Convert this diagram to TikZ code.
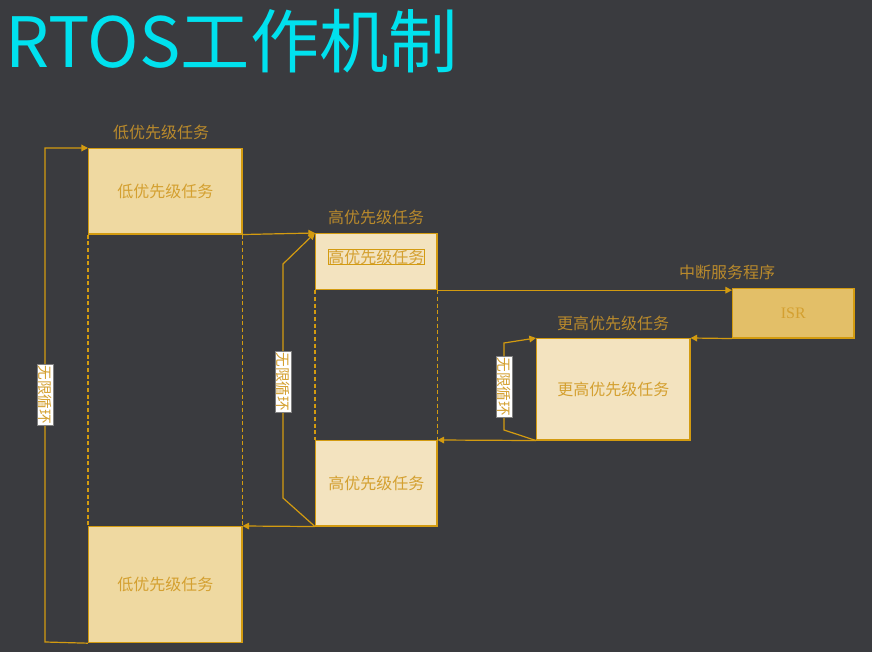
\documentclass[tikz,border=0pt]{standalone}
\usepackage{fontspec}
\newfontfamily\cjk{Noto Sans CJK SC}
\newfontfamily\ser{Liberation Serif}
\usetikzlibrary{arrows.meta}
\definecolor{bg}{HTML}{3A3B3F}
\definecolor{ln}{HTML}{D39B10}
\definecolor{tx}{HTML}{D4A030}
\definecolor{lb}{HTML}{B98A2C}
\definecolor{fa}{HTML}{EFD9A1}
\definecolor{fb}{HTML}{F3E3BF}
\definecolor{fc}{HTML}{E3BF68}
\definecolor{ti}{HTML}{00E1EE}
\tikzset{
 box/.style={draw=ln,line width=0.9pt,font=\cjk\fontsize{12}{14}\selectfont,text=tx},
 arr/.style={draw=ln,line width=0.9pt,-{Triangle[length=5pt,width=5pt]}},
 ln/.style={draw=ln,line width=0.8pt},
 dsh/.style={draw=ln,line width=0.8pt,dash pattern=on 3pt off 2pt},
 lab/.style={font=\cjk\fontsize{12}{14}\selectfont,text=lb},
 vlab/.style={fill=white,draw=gray,line width=0.4pt,inner sep=1pt,rotate=-90,font=\cjk\fontsize{11}{12}\selectfont,text=tx}
}
\begin{document}
\begin{tikzpicture}[x=0.75pt,y=-0.75pt]
\fill[bg] (0,0) rectangle (872,652);
\useasboundingbox (0,0) rectangle (872,652);
\node[anchor=base west,text=ti,font=\cjk\fontsize{52}{56}\selectfont,inner sep=0] (title) at (5,68) {RTOS工作机制};
% boxes
\node[box,fill=fa,minimum width=115pt,minimum height=64pt,anchor=north west] (L1) at (88,148) {低优先级任务};
\node[box,fill=fa,minimum width=115pt,minimum height=87pt,anchor=north west] (L2) at (88,526) {低优先级任务};
\node[box,fill=fb,minimum width=91pt,minimum height=42pt,anchor=north west] (H1) at (315,233) {};
\node[box,anchor=north,inner sep=0] (H1t) at ([yshift=-12pt]H1.north) {高优先级任务};
\node[box,fill=fb,minimum width=91pt,minimum height=64pt,anchor=north west] (H2) at (315,440) {高优先级任务};
\node[box,fill=fb,minimum width=115pt,minimum height=76pt,anchor=north west] (HH) at (536,338) {更高优先级任务};
\node[box,fill=fc,minimum width=91pt,minimum height=37pt,anchor=north west,font=\ser\fontsize{12}{14}\selectfont] (ISR) at (732,288) {ISR};
\draw[box,draw=none,fill=none] (H1t.center) node{};
% top labels
\node[lab] (tl1) at (161,132) {低优先级任务};
\node[lab] (tl2) at (376,217) {高优先级任务};
\node[lab] (tl3) at (727,272) {中断服务程序};
\node[lab] (tl4) at (613,323) {更高优先级任务};
% dashed
\draw[dsh] (L1.south west) -- (L2.north west);
\draw[dsh] (L1.south east) -- (L2.north east);
\draw[dsh] (H1.south west) -- (H2.north west);
\draw[dsh] (H1.south east) -- (H2.north east);
% arrows
\draw[arr] (L1.south east) -- (H1.north west);
\draw[arr] (H1.south east) -- (H1.south east -| ISR.west);
\draw[arr] (ISR.south west) -- (HH.north east);
\draw[arr] (HH.south west) -- (H2.north east);
\draw[arr] (H2.south west) -- (L2.north east);
% loops
\coordinate (a1) at (45,642); \coordinate (a2) at (45,148);
\draw[arr] (L2.south west) -- (a1) -- (a2) -- (L1.north west);
\coordinate (b1) at (283,498); \coordinate (b2) at (283,264);
\draw[arr] (H2.south west) -- (b1) -- (b2) -- (H1.north west);
\coordinate (c1) at (504,430); \coordinate (c2) at (504,343);
\draw[arr] (HH.south west) -- (c1) -- (c2) -- (HH.north west);
\node[vlab] (v1) at (45,395) {无限循环};
\node[vlab] (v2) at (283,382) {无限循环};
\node[vlab] (v3) at (504,387) {无限循环};
\end{tikzpicture}
\end{document}
